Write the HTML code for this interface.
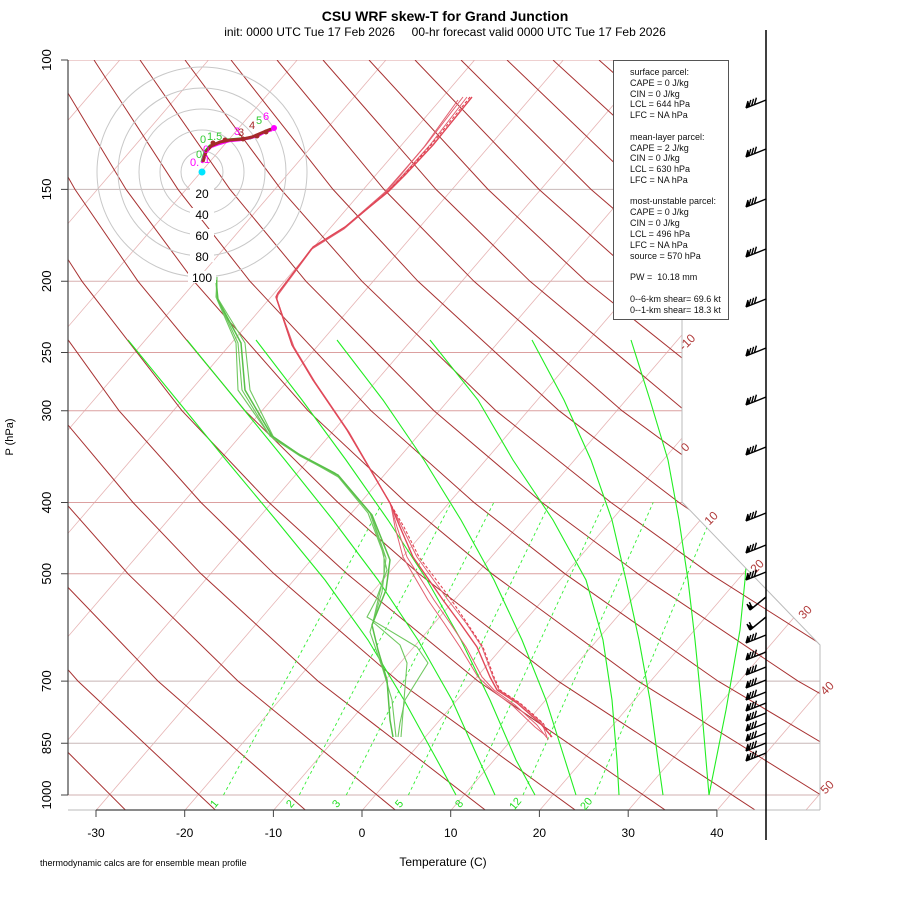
<!DOCTYPE html>
<html><head><meta charset="utf-8">
<style>
html,body{margin:0;padding:0;background:#fff;}
svg text{font-family:"Liberation Sans",Arial,sans-serif;}
</style></head>
<body>
<svg width="900" height="900" viewBox="0 0 900 900" xmlns="http://www.w3.org/2000/svg">
<defs>
<clipPath id="c"><polygon points="68,60 682,60 682,502 820,645 820,810 68,810"/></clipPath>
<g id="b1"><path d="M0,0 L-20,8 M-20,8 L-18,1 M-17.2,6.9 L-15.2,-0.1 M-14.4,5.8 L-12.4,-1.2 M-11.6,4.7 L-9.6,-2.3" stroke="#000" stroke-width="1.4" fill="none"/><polygon points="-20,8 -15.4,6.2 -18,1" fill="#000"/></g>
<g id="b2"><path d="M0,0 L-16,13 M-16,13 L-19,7 M-13.7,11.2 L-16.7,5.2" stroke="#000" stroke-width="1.5" fill="none"/><polygon points="-16,13 -12,9.8 -18.5,7.5" fill="#000"/></g>
</defs>
<rect width="900" height="900" fill="#fff"/>
<g clip-path="url(#c)" fill="none">
<!-- isotherms -->
<g stroke="#e6b4b4" stroke-width="0.8">
<path d="M-525,810.6L119.8,60"/><path d="M-436.3,810.6L208.5,60"/><path d="M-347.6,810.6L297.2,60"/><path d="M-258.9,810.6L385.9,60"/><path d="M-170.2,810.6L474.6,60"/><path d="M-81.5,810.6L563.3,60"/><path d="M7.2,810.6L652,60"/><path d="M95.9,810.6L740.7,60"/><path d="M184.6,810.6L829.4,60"/><path d="M273.3,810.6L918.1,60"/><path d="M362,810.6L1006.8,60"/><path d="M450.7,810.6L1095.5,60"/><path d="M539.4,810.6L1184.2,60"/><path d="M628.1,810.6L1272.9,60"/><path d="M716.8,810.6L1361.6,60"/><path d="M805.5,810.6L1450.3,60"/>
</g>
<!-- pressure lines -->
<g stroke-width="1">
<path d="M68,60H820" stroke="#dca0a0"/><path d="M68,189.4H820" stroke="#c8b8b8"/><path d="M68,281.3H820" stroke="#d8b0b0"/><path d="M68,352.5H820" stroke="#dca0a0"/><path d="M68,410.7H820" stroke="#dca0a0"/><path d="M68,502.5H820" stroke="#dca0a0"/><path d="M68,573.8H820" stroke="#dca0a0"/><path d="M68,681.1H820" stroke="#c8b4b4"/><path d="M68,743.3H820" stroke="#c8b8b8"/><path d="M68,795H820" stroke="#d0b0b0"/>
</g>
<!-- dry adiabats -->
<g stroke="#a83232" stroke-width="1">
<path d="M126,810.6L-3,681.1L-90,573.8L-140,502.5"/>
<path d="M216,810.6L78,681.1L-17,573.8L-72,502.5"/>
<path d="M306,810.6L158,681.1L55,573.8L-4,502.5L-69,410.7"/>
<path d="M396,810.6L238,681.1L128,573.8L65,502.5L-6,410.7L-86,281.3"/>
<path d="M486,810.6L318,681.1L201,573.8L133,502.5L56,410.7L-30,281.3"/>
<path d="M576,810.6L398,681.1L274,573.8L201,502.5L119,410.7L26,281.3L-28,189.4"/>
<path d="M666,810.6L478,681.1L347,573.8L269,502.5L182,410.7L82,281.3L23,189.4L-44,60"/>
<path d="M756,810.6L558,681.1L419,573.8L338,502.5L245,410.7L138,281.3L75,189.4L2,60"/>
<path d="M846,810.6L638,681.1L492,573.8L406,502.5L308,410.7L194,281.3L126,189.4L48,60"/>
<path d="M936,810.6L718,681.1L565,573.8L474,502.5L371,410.7L250,281.3L178,189.4L94,60"/>
<path d="M1026,810.6L798,681.1L638,573.8L542,502.5L434,410.7L306,281.3L230,189.4L140,60"/>
<path d="M1116,810.6L879,681.1L710,573.8L611,502.5L496,410.7L362,281.3L281,189.4L185,60"/>
<path d="M1206,810.6L959,681.1L783,573.8L679,502.5L559,410.7L418,281.3L333,189.4L231,60"/>
<path d="M1296,810.6L1039,681.1L856,573.8L747,502.5L622,410.7L474,281.3L384,189.4L277,60"/>
<path d="M1386,810.6L1119,681.1L929,573.8L815,502.5L685,410.7L530,281.3L436,189.4L323,60"/>
<path d="M1475,810.6L1199,681.1L1001,573.8L884,502.5L748,410.7L586,281.3L488,189.4L369,60"/>
<path d="M1565,810.6L1279,681.1L1074,573.8L952,502.5L811,410.7L642,281.3L539,189.4L415,60"/>
<path d="M1655,810.6L1360,681.1L1147,573.8L1020,502.5L873,410.7L698,281.3L591,189.4L461,60"/>
<path d="M1745,810.6L1440,681.1L1220,573.8L1088,502.5L936,410.7L754,281.3L642,189.4L507,60"/>
<path d="M1835,810.6L1520,681.1L1292,573.8L1157,502.5L999,410.7L810,281.3L694,189.4L553,60"/>
<path d="M1925,810.6L1600,681.1L1365,573.8L1225,502.5L1062,410.7L866,281.3L745,189.4L599,60"/>
<path d="M2015,810.6L1680,681.1L1438,573.8L1293,502.5L1125,410.7L922,281.3L797,189.4L645,60"/>
</g>
<!-- mixing ratio -->
<g stroke="#33ee33" stroke-width="0.9" stroke-dasharray="3,3">
<path d="M223.5,795L382.4,502.5"/><path d="M299.3,795L451.3,502.5"/><path d="M346.3,795L493.8,502.5"/><path d="M408.4,795L550,502.5"/><path d="M468.6,795L604.3,502.5"/><path d="M523,795L653.2,502.5"/><path d="M594.7,795L717.4,502.5"/>
</g>
<!-- moist adiabats -->
<g stroke="#22ee22" stroke-width="1.1">
<path d="M128,340L177,400L226,460L276,520L325,580L368,640L404,700L437,760L456,795"/>
<path d="M187,340L236,400L285,460L333,520L378,580L418,640L452,700L479,760L495,795"/>
<path d="M256,340L302,400L346,460L388,520L427,580L461,640L490,700L516,760L535,795"/>
<path d="M337,340L383,400L424,460L461,520L494,580L522,640L546,700L565,760L576,795"/>
<path d="M430,340L478,400L513,460L553,520L586,580L603,640L612,700L617,760L619,795"/>
<path d="M532,340L564,400L591,460L612,520L626,580L639,640L650,700L658,760L663,795"/>
<path d="M631,340L650,400L668,460L679,520L688,580L695,640L701,700L706,760L709,795"/>
<path d="M748,540L745,580L740,630L726,710L709,795"/>
</g>
</g>
<!-- border -->
<path d="M682,60V502L820,645V810" stroke="#bbb" fill="none"/>
<path d="M68,810H820" stroke="#bbb" fill="none"/>
<!-- axes -->
<g stroke="#444" fill="none">
<path d="M68,60V795" stroke-width="1.2"/>
<path d="M61,60H68M61,189.4H68M61,281.3H68M61,352.5H68M61,410.7H68M61,502.5H68M61,573.8H68M61,681.1H68M61,743.3H68M61,795H68"/>
<path d="M96,810H717" stroke-width="1.2"/>
<path d="M96,810v7M184.7,810v7M273.4,810v7M362,810v7M450.7,810v7M539.4,810v7M628.2,810v7M716.9,810v7"/>
</g>
<g font-size="13" text-anchor="middle">
<text transform="translate(51,60) rotate(-90)">100</text>
<text transform="translate(51,189.4) rotate(-90)">150</text>
<text transform="translate(51,281.3) rotate(-90)">200</text>
<text transform="translate(51,352.5) rotate(-90)">250</text>
<text transform="translate(51,410.7) rotate(-90)">300</text>
<text transform="translate(51,502.5) rotate(-90)">400</text>
<text transform="translate(51,573.8) rotate(-90)">500</text>
<text transform="translate(51,681.1) rotate(-90)">700</text>
<text transform="translate(51,743.3) rotate(-90)">850</text>
<text transform="translate(51,795) rotate(-90)">1000</text>
</g>
<g font-size="12" text-anchor="middle">
<text x="96" y="837">-30</text><text x="184.7" y="837">-20</text><text x="273.4" y="837">-10</text><text x="362" y="837">0</text><text x="450.7" y="837">10</text><text x="539.4" y="837">20</text><text x="628.2" y="837">30</text><text x="716.9" y="837">40</text>
</g>
<g font-size="12" text-anchor="middle" fill="#b03838">
<text transform="translate(690,345) rotate(-45)">-10</text>
<text transform="translate(688,450) rotate(-45)">0</text>
<text transform="translate(714,521) rotate(-45)">10</text>
<text transform="translate(760,569) rotate(-45)">20</text>
<text transform="translate(808,615) rotate(-45)">30</text>
<text transform="translate(830,691) rotate(-45)">40</text>
<text transform="translate(830,790) rotate(-45)">50</text>
</g>
<g font-size="11" text-anchor="middle" fill="#22dd22">
<text transform="translate(217,806) rotate(-50)">1</text>
<text transform="translate(293,806) rotate(-50)">2</text>
<text transform="translate(339,806) rotate(-50)">3</text>
<text transform="translate(402,806) rotate(-50)">5</text>
<text transform="translate(462,806) rotate(-50)">8</text>
<text transform="translate(518,806) rotate(-50)">12</text>
<text transform="translate(589,806) rotate(-50)">20</text>
</g>
<!-- profiles -->
<g fill="none" stroke-linejoin="round">
<polyline stroke="#e26070" stroke-width="1" points="463,97 426,145 400,175 385,192 345,227 313,247 278,293 276,297 292,345 313,380 347,430 390,503 402,527 417,557 448,600 466,623 482,647 493,677 499,690 519,703 542,723 548,740"/>
<polyline stroke="#e26070" stroke-width="1" points="467,97 430,145 403,175 387,192 344,229 312,249 278,295 277,299 293,347 314,381 348,431 390,503 397,527 407,557 434,600 450,623 466,647 482,677 494,690 515,705 537,725 547,738"/>
<polyline stroke="#e26070" stroke-width="1" points="458,100 424,147 399,177 384,194 343,229 311,249 277,295 277,300 294,347 315,382 349,432 391,505 395,527 403,557 428,600 444,623 460,647 478,677 492,690 513,706 535,727 545,735"/>
<polyline stroke="#e03848" stroke-width="1" stroke-dasharray="3,2" points="470,97 431,145 404,175 387,192 345,227 313,247 278,293 276,297 292,345 313,380 347,430 390,503 404,527 419,557 450,598 467,623 483,647 494,677 500,690 520,703 543,723 551,737"/>
<polyline stroke="#e04858" stroke-width="1.4" points="472,97 433,145 405,175 388,192 345,227 313,247 278,293 276,297 292,345 313,380 347,430 390,503 400,527 413,557 443,600 460,623 477,647 490,677 497,690 517,703 540,723 552,737"/>
<polyline stroke="#70c860" stroke-width="1.1" points="217,277 216,297 236,343 238,390 268,433 297,453 335,473 368,513 382,550 387,570 376,600 367,617 417,647 428,663 405,700 400,723 398,737"/>
<polyline stroke="#70c860" stroke-width="1.1" points="217,277 217,297 245,343 250,390 275,440 305,458 340,478 370,513 384,555 384,575 378,600 373,622 400,645 407,663 404,700 401,737"/>
<polyline stroke="#70c860" stroke-width="1.1" points="216,280 217,298 238,343 242,390 270,436 300,456 338,476 371,514 386,558 382,592 370,632 383,670 392,700 396,737"/>
<polyline stroke="#58c048" stroke-width="1.5" points="216,280 218,300 241,343 245,390 272,436 300,455 338,475 372,515 390,560 386,590 372,625 378,650 387,680 390,720 393,737"/>
</g>
<!-- hodograph -->
<g fill="none" stroke="#c8c8c8">
<circle cx="202" cy="172" r="21"/><circle cx="202" cy="172" r="42"/><circle cx="202" cy="172" r="63"/><circle cx="202" cy="172" r="84"/><circle cx="202" cy="172" r="105"/>
</g>
<g fill="#fff"><rect x="190" y="187" width="24" height="12"/><rect x="190" y="208" width="24" height="12"/><rect x="190" y="229" width="24" height="12"/><rect x="190" y="250" width="24" height="12"/><rect x="188" y="271" width="28" height="12"/></g>
<g font-size="12" text-anchor="middle"><text x="202" y="198">20</text><text x="202" y="219">40</text><text x="202" y="240">60</text><text x="202" y="261">80</text><text x="202" y="282">100</text></g>
<polyline fill="none" stroke="#00cc00" stroke-width="3" points="202,162 205,152 210,146 218,143 228,140 240,139 250,138 258,135 265,132 272,129"/>
<polyline fill="none" stroke="#ff00ff" stroke-width="2.5" points="202,163 205,153 211,147 219,144 229,141 240,140 250,138 258,136 265,132 272,130"/>
<polyline fill="none" stroke="#a52a2a" stroke-width="3" points="203,162 206,152 211,146 220,142 230,140 243,139 252,137 259,134 266,131 271,129"/>
<g fill="#a52a2a"><circle cx="213" cy="143" r="2.5"/><circle cx="225" cy="140" r="2.5"/><circle cx="243" cy="139" r="2.5"/><circle cx="257" cy="136" r="2.5"/><circle cx="266" cy="132" r="2.5"/></g>
<circle cx="274" cy="128" r="3" fill="#ff00ff"/>
<circle cx="202" cy="172" r="3.5" fill="#00e5ff"/>
<g font-size="11">
<text x="263" y="120" fill="#ff00ff">6</text><text x="256" y="124" fill="#33cc33">5</text><text x="249" y="129" fill="#a52a2a">4</text><text x="234" y="135" fill="#ff00ff">3</text><text x="238" y="136" fill="#a52a2a">3</text><text x="207" y="140" fill="#33cc33">1.5</text><text x="200" y="143" fill="#33cc33">0</text><text x="203" y="153" fill="#ff00ff">0</text><text x="196" y="158" fill="#33cc33">0</text><text x="190" y="166" fill="#ff00ff">0.</text><text x="204" y="163" fill="#ff00ff">1</text>
</g>
<!-- barbs -->
<use href="#b1" x="766" y="100"/><use href="#b1" x="766" y="149"/><use href="#b1" x="766" y="199"/><use href="#b1" x="766" y="249"/><use href="#b1" x="766" y="299"/><use href="#b1" x="766" y="348"/><use href="#b1" x="766" y="397"/><use href="#b1" x="766" y="447"/><use href="#b1" x="766" y="513"/><use href="#b1" x="766" y="545"/><use href="#b1" x="766" y="572"/><use href="#b2" x="766" y="597"/><use href="#b2" x="766" y="617"/><use href="#b1" x="766" y="635"/><use href="#b1" x="766" y="652"/><use href="#b1" x="766" y="667"/><use href="#b1" x="766" y="680"/><use href="#b1" x="766" y="692"/><use href="#b1" x="766" y="703"/><use href="#b1" x="766" y="713"/><use href="#b1" x="766" y="723"/><use href="#b1" x="766" y="733"/><use href="#b1" x="766" y="743"/><use href="#b1" x="766" y="753"/>
<line x1="766" y1="30" x2="766" y2="840" stroke="#000" stroke-width="1.5"/>
<!-- text -->
<text x="445" y="21" text-anchor="middle" font-size="14" font-weight="bold">CSU WRF skew-T for Grand Junction</text>
<text x="445" y="36" text-anchor="middle" font-size="12" xml:space="preserve">init: 0000 UTC Tue 17 Feb 2026     00-hr forecast valid 0000 UTC Tue 17 Feb 2026</text>
<text x="443" y="866" text-anchor="middle" font-size="12">Temperature (C)</text>
<text x="40" y="866" font-size="9">thermodynamic calcs are for ensemble mean profile</text>
<text transform="translate(13,437) rotate(-90)" text-anchor="middle" font-size="11">P (hPa)</text>
<rect x="613.5" y="60.5" width="115" height="259" fill="#fff" stroke="#555" stroke-width="1"/>
<g font-size="9" fill="#111">
<text x="630" y="75">surface parcel:</text>
<text x="630" y="86">CAPE = 0 J/kg</text>
<text x="630" y="97">CIN = 0 J/kg</text>
<text x="630" y="107">LCL = 644 hPa</text>
<text x="630" y="118">LFC = NA hPa</text>
<text x="630" y="140">mean-layer parcel:</text>
<text x="630" y="151">CAPE = 2 J/kg</text>
<text x="630" y="161">CIN = 0 J/kg</text>
<text x="630" y="172">LCL = 630 hPa</text>
<text x="630" y="183">LFC = NA hPa</text>
<text x="630" y="204">most-unstable parcel:</text>
<text x="630" y="215">CAPE = 0 J/kg</text>
<text x="630" y="226">CIN = 0 J/kg</text>
<text x="630" y="237">LCL = 496 hPa</text>
<text x="630" y="248">LFC = NA hPa</text>
<text x="630" y="259">source = 570 hPa</text>
<text x="630" y="280" xml:space="preserve">PW =  10.18 mm</text>
<text x="630" y="302">0--6-km shear= 69.6 kt</text>
<text x="630" y="313">0--1-km shear= 18.3 kt</text>
</g>
</svg>
</body></html>
